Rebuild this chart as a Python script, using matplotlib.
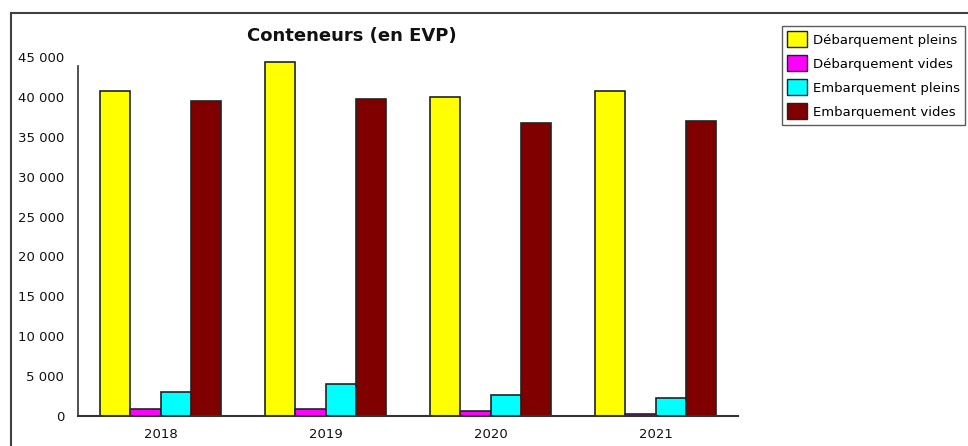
import matplotlib
matplotlib.use("Agg")
import matplotlib.pyplot as plt
import numpy as np
from matplotlib.lines import Line2D
from matplotlib.patches import Patch

years = ["2018", "2019", "2020", "2021"]
series_names = ["Débarquement pleins", "Débarquement vides", "Embarquement pleins", "Embarquement vides"]
deb_pleins = [40700, 44350, 39950, 40700]
deb_vides = [900, 900, 650, 200]
emb_pleins = [3000, 3950, 2650, 2200]
emb_vides = [39450, 39700, 36700, 36950]
colors = ["#ffff00", "#ff00ff", "#00ffff", "#800000"]
yticks = [0, 5000, 10000, 15000, 20000, 25000, 30000, 35000, 40000, 45000]

W, H = 968, 446
fig = plt.figure(figsize=(W / 100, H / 100), dpi=100)
fig.patch.set_facecolor("white")

# outer frame lines
fig.add_artist(Line2D([11 / W, 11 / W], [0, 1 - 13 / H], color="#404040", lw=1.5))
fig.add_artist(Line2D([11 / W, 1], [1 - 13 / H, 1 - 13 / H], color="#404040", lw=1.5))

ax = fig.add_axes([78 / W, 1 - 416 / H, (738 - 78) / W, (416 - 57) / H])
x = np.arange(len(years))
bw = 0.182
all_series = [deb_pleins, deb_vides, emb_pleins, emb_vides]
for i, (vals, c, name) in enumerate(zip(all_series, colors, series_names)):
    ax.bar(x + (i - 1.5) * bw, vals, width=bw, color=c, edgecolor="#222222", linewidth=1.2, label=name)

ax.set_xlim(-0.5, 3.5)
ax.set_ylim(0, 45000)
ax.set_yticks(yticks)
ax.set_yticklabels([f"{v:,}".replace(",", " ") for v in yticks], fontsize=9.5, color="#111111")
ax.set_xticks(x)
ax.set_xticklabels(years, fontsize=9.5, color="#111111")
ax.tick_params(axis="y", length=0, pad=10)
ax.tick_params(axis="x", length=0, pad=9)
for s in ["top", "right"]:
    ax.spines[s].set_visible(False)
ax.spines["left"].set_color("#333333")
ax.spines["bottom"].set_color("#333333")
ax.spines["left"].set_bounds(0, 43900)
ax.spines["left"].set_linewidth(1.2)
ax.spines["bottom"].set_linewidth(1.5)

fig.text(352 / W, 1 - 36 / H, "Conteneurs (en EVP)", ha="center", va="center",
         fontsize=13, fontweight="bold", color="#111111")

handles = [Patch(facecolor=c, edgecolor="#222222", label=n) for c, n in zip(colors, series_names)]
leg = fig.legend(handles=handles, loc="upper left", bbox_to_anchor=(782 / W, 1 - 26 / H),
                 fontsize=9.5, frameon=True, fancybox=False, edgecolor="#333333",
                 handlelength=1.5, handleheight=1.5, handletextpad=0.45, labelspacing=0.6,
                 borderpad=0.4, borderaxespad=0)
leg.get_frame().set_linewidth(1.0)

fig.savefig("out.png", dpi=100)
